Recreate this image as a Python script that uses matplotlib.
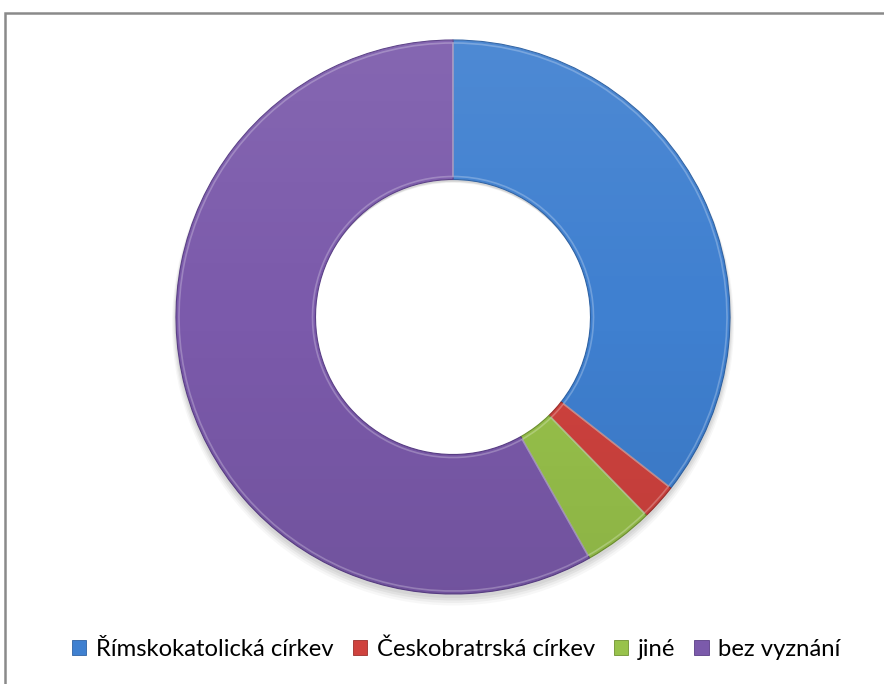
import numpy as np
import matplotlib.pyplot as plt
import matplotlib.patches as patches
from matplotlib.patches import Patch

# Religious affiliation shares (%)
labels = ["Římskokatolická církev", "Českobratrská církev", "jiné", "bez vyznání"]
shares = [35.6, 2.1, 4.1, 58.2]
colors = ["#3f80d0", "#cf423e", "#98c24b", "#7b5aab"]
edge_colors = ["#2f62a3", "#9c2f2c", "#6f9231", "#5a3f86"]

W, H = 884, 684
fig = plt.figure(figsize=(W / 100, H / 100), dpi=100)
ax = fig.add_axes([0, 0, 1, 1])

# chart area frame (runs past the right and bottom edges)
frame = patches.Rectangle((5, -20), W + 40, H - 13 + 20, fill=False,
                          edgecolor="#8a8a8a", linewidth=1.8)
ax.add_patch(frame)

cx, cy = 453, H - 317
r_out, r_in = 277, 137.5

# soft drop shadow under the ring
for k, a in enumerate([0.05, 0.05, 0.04, 0.03]):
    sh = patches.Wedge((cx, cy - 3 - k * 1.5), r_out + 1 + k, 0, 360,
                       width=r_out - r_in, facecolor="#000000",
                       edgecolor="none", alpha=a)
    ax.add_patch(sh)

wedges, _ = ax.pie(shares, colors=colors, startangle=90, counterclock=False,
                   center=(cx, cy), radius=r_out, frame=True,
                   wedgeprops=dict(width=r_out - r_in, linewidth=0.8))
for w, ec in zip(wedges, edge_colors):
    w.set_edgecolor(ec)

# vertical light-to-dark shading over the ring
ring = patches.Wedge((cx, cy), r_out, 0, 360, width=r_out - r_in,
                     transform=ax.transData, facecolor="none", edgecolor="none")
ax.add_patch(ring)
grad = np.linspace(1, -1, 256).reshape(-1, 1)
rgba = np.zeros((256, 1, 4))
rgba[..., :3] = (grad > 0)[..., None] * 1.0
rgba[..., 3] = np.abs(grad) * 0.08
im = ax.imshow(rgba, extent=(cx - r_out, cx + r_out, cy - r_out, cy + r_out),
               aspect="auto", zorder=3, interpolation="bilinear")
im.set_clip_path(ring)

# light inner highlight along each segment to hint the bevel
for w in wedges:
    hl = patches.Wedge((cx, cy), r_out - 3, w.theta1, w.theta2,
                       width=r_out - r_in - 6, facecolor="none",
                       edgecolor="white", linewidth=1.2, alpha=0.25, zorder=4)
    ax.add_patch(hl)

ax.set_xlim(0, W)
ax.set_ylim(0, H)
ax.set_aspect("equal")
ax.axis("off")

handles = [Patch(facecolor=c, edgecolor=e, linewidth=0.6)
           for c, e in zip(colors, edge_colors)]


def make_legend(size):
    return fig.legend(handles, labels, loc="center left",
                      bbox_to_anchor=(72 / W, 35 / H), ncol=4, frameon=False,
                      borderpad=0, borderaxespad=0,
                      handlelength=0.6, handleheight=0.6,
                      handletextpad=0.4, columnspacing=0.8,
                      prop={"family": ["Lato", "DejaVu Sans"], "size": size})


# size the legend so it runs from x=72 to x=845
leg = make_legend(15)
fig.canvas.draw()
width = leg.get_window_extent().width
leg.remove()
make_legend(15 * 773 / width)

fig.savefig("out.png", dpi=100)
